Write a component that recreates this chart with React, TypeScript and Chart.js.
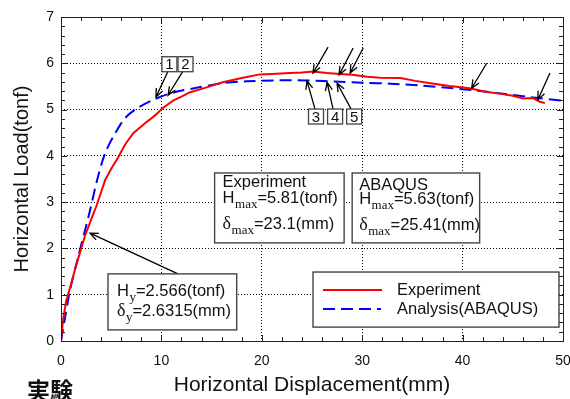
import React, { useEffect, useRef } from "react";
import { Chart, registerables } from "chart.js";

Chart.register(...registerables);

// ---------------- data ----------------
const seriesNames = ["Experiment", "Analysis(ABAQUS)"];

const expDisp = [0, 0.2, 0.5, 0.9, 1.4, 1.9, 2.4, 3.0, 3.5, 4.0, 4.4, 5.0, 5.7, 6.4, 7.2, 7.9, 8.4, 9.4, 10.1, 11.2, 12.0, 12.8, 14.5, 16.1, 18.0, 19.8, 21.0, 22.8, 24.0, 25.1, 26.5, 27.8, 29.0, 30.5, 31.8, 33.8, 35.3, 36.8, 38.7, 40.7, 42.4, 43.5, 45.0, 46.0, 47.0, 47.7, 48.2];
const expLoad = [0, 0.45, 0.85, 1.15, 1.55, 1.92, 2.28, 2.62, 2.9, 3.22, 3.48, 3.72, 3.97, 4.25, 4.49, 4.62, 4.71, 4.88, 5.03, 5.2, 5.28, 5.37, 5.48, 5.59, 5.68, 5.76, 5.77, 5.79, 5.8, 5.82, 5.79, 5.77, 5.75, 5.71, 5.69, 5.68, 5.62, 5.57, 5.51, 5.46, 5.38, 5.35, 5.3, 5.24, 5.25, 5.17, 5.14];

const anaDisp = [0, 0.4, 0.9, 1.7, 2.4, 2.9, 3.6, 4.4, 5.4, 6.4, 7.6, 9.4, 11.2, 13.5, 16.1, 18.5, 21.1, 24.5, 27.8, 30.0, 32.8, 35.8, 40.0, 43.4, 46.7, 50.0];
const anaLoad = [0, 0.5, 1.1, 1.81, 2.4, 2.83, 3.48, 4.06, 4.49, 4.82, 5.03, 5.23, 5.37, 5.47, 5.57, 5.61, 5.63, 5.63, 5.6, 5.58, 5.56, 5.52, 5.44, 5.36, 5.27, 5.19];

const xTickValues = [0, 10, 20, 30, 40, 50];
const yTickValues = [0, 1, 2, 3, 4, 5, 6, 7];
const xTitle = "Horizontal Displacement(mm)";
const yTitle = "Horizontal Load(tonf)";
const cornerNote = "実験";

// numbered tags (label, centre in data units)
const tagLabels = ["1", "2", "3", "4", "5"];
const tagX = [10.8, 12.4, 25.4, 27.3, 29.2];
const tagY = [5.98, 5.98, 4.85, 4.85, 4.85];

// arrows: tail (x,y) -> head (x,y) in data units
const arrowTailX = [10.66, 12.15, 25.3, 27.1, 28.9, 26.6, 29.1, 30.1, 42.4, 48.7, 11.65];
const arrowTailY = [5.83, 5.83, 5.01, 5.01, 5.01, 6.35, 6.33, 6.33, 6.0, 5.79, 1.45];
const arrowHeadX = [9.46, 10.66, 24.5, 26.5, 27.5, 25.1, 27.7, 28.8, 40.9, 47.5, 2.89];
const arrowHeadY = [5.27, 5.31, 5.62, 5.59, 5.57, 5.79, 5.75, 5.79, 5.46, 5.21, 2.33];

// info boxes text
type Run = { t: string; serif?: boolean; sub?: boolean };
const expBoxLines: Run[][] = [
  [{ t: "Experiment" }],
  [{ t: "H" }, { t: "max", sub: true }, { t: "=5.81(tonf)" }],
  [{ t: "δ", serif: true }, { t: "max", sub: true }, { t: "=23.1(mm)" }],
];
const abaBoxLines: Run[][] = [
  [{ t: "ABAQUS" }],
  [{ t: "H" }, { t: "max", sub: true }, { t: "=5.63(tonf)" }],
  [{ t: "δ", serif: true }, { t: "max", sub: true }, { t: "=25.41(mm)" }],
];
const yieldBoxLines: Run[][] = [
  [{ t: "H" }, { t: "y", sub: true }, { t: "=2.566(tonf)" }],
  [{ t: "δ", serif: true }, { t: "y", sub: true }, { t: "=2.6315(mm)" }],
];

// ---------------- layout / style ----------------
const SANS = "'Liberation Sans', Arial, sans-serif";
const SERIF = "'Liberation Serif', 'Times New Roman', serif";

const infoBoxes = [
  { lines: expBoxLines, x0: 15.3, y0: 3.63, x1: 28.2, y1: 2.12, textDx: 8, baselines: [14, 30, 56] },
  { lines: abaBoxLines, x0: 29.0, y0: 3.63, x1: 41.7, y1: 2.12, textDx: 7, baselines: [17, 31, 57] },
  { lines: yieldBoxLines, x0: 4.68, y0: 1.45, x1: 17.5, y1: 0.24, textDx: 9, baselines: [22, 42] },
];
const legendBox = { x0: 25.1, y0: 1.49, x1: 49.6, y1: 0.3 };

function drawRuns(ctx: CanvasRenderingContext2D, runs: Run[], x: number, y: number) {
  let cx = x;
  for (const r of runs) {
    if (r.sub) {
      ctx.font = `13px ${SERIF}`;
      ctx.fillText(r.t, cx, y + 5);
    } else if (r.serif) {
      ctx.font = `18px ${SERIF}`;
      ctx.fillText(r.t, cx, y);
    } else {
      ctx.font = `16.5px ${SANS}`;
      ctx.fillText(r.t, cx, y);
    }
    cx += ctx.measureText(r.t).width + (r.sub ? 0 : 0.5);
  }
}

function drawArrow(ctx: CanvasRenderingContext2D, x0: number, y0: number, x1: number, y1: number) {
  const a = Math.atan2(y1 - y0, x1 - x0);
  const L = 9;
  const s = 0.4;
  ctx.beginPath();
  ctx.moveTo(x0, y0);
  ctx.lineTo(x1, y1);
  ctx.moveTo(x1 - L * Math.cos(a - s), y1 - L * Math.sin(a - s));
  ctx.lineTo(x1, y1);
  ctx.lineTo(x1 - L * Math.cos(a + s), y1 - L * Math.sin(a + s));
  ctx.stroke();
}

const decorPlugin = {
  id: "decor",
  afterDatasetsDraw(chart: any) {
    const { ctx, chartArea, scales } = chart;
    const xs = scales.x;
    const ys = scales.y;
    const X = (v: number) => xs.getPixelForValue(v);
    const Y = (v: number) => ys.getPixelForValue(v);
    const { left, right, top, bottom } = chartArea;
    ctx.save();

    // frame
    ctx.strokeStyle = "#222";
    ctx.lineWidth = 1;
    ctx.strokeRect(Math.round(left) + 0.5, Math.round(top) + 0.5, Math.round(right - left), Math.round(bottom - top));

    // inward ticks, all four sides
    ctx.beginPath();
    for (let i = 0; i <= 25; i++) {
      const v = i * 2;
      const px = Math.round(X(v)) + 0.5;
      const len = v % 10 === 0 ? 6 : 4;
      ctx.moveTo(px, bottom);
      ctx.lineTo(px, bottom - len);
      ctx.moveTo(px, top);
      ctx.lineTo(px, top + len);
    }
    for (let i = 0; i <= 35; i++) {
      const v = i / 5;
      const py = Math.round(Y(v)) + 0.5;
      const len = i % 5 === 0 ? 6 : 4;
      ctx.moveTo(left, py);
      ctx.lineTo(left + len, py);
      ctx.moveTo(right, py);
      ctx.lineTo(right - len, py);
    }
    ctx.stroke();

    // arrows
    ctx.strokeStyle = "#000";
    ctx.lineWidth = 1.3;
    for (let i = 0; i < arrowTailX.length; i++) {
      drawArrow(ctx, X(arrowTailX[i]), Y(arrowTailY[i]), X(arrowHeadX[i]), Y(arrowHeadY[i]));
    }

    // numbered tags
    for (let i = 0; i < tagLabels.length; i++) {
      const cx = X(tagX[i]);
      const cy = Y(tagY[i]);
      const w = 15, h = 15;
      ctx.fillStyle = "#fff";
      ctx.fillRect(cx - w / 2, cy - h / 2, w, h);
      ctx.strokeStyle = "#444";
      ctx.lineWidth = 1.3;
      ctx.strokeRect(cx - w / 2, cy - h / 2, w, h);
      ctx.fillStyle = "#111";
      ctx.font = `15px ${SANS}`;
      ctx.textAlign = "center";
      ctx.textBaseline = "middle";
      ctx.fillText(tagLabels[i], cx, cy + 1);
    }

    // info boxes
    ctx.textAlign = "left";
    ctx.textBaseline = "alphabetic";
    for (const b of infoBoxes) {
      const bx = X(b.x0), by = Y(b.y0), bw = X(b.x1) - bx, bh = Y(b.y1) - by;
      ctx.fillStyle = "#fff";
      ctx.fillRect(bx, by, bw, bh);
      ctx.strokeStyle = "#444";
      ctx.lineWidth = 1.4;
      ctx.strokeRect(bx, by, bw, bh);
      ctx.fillStyle = "#111";
      b.lines.forEach((ln, k) => drawRuns(ctx, ln, bx + b.textDx, by + b.baselines[k]));
    }

    // legend
    {
      const bx = X(legendBox.x0), by = Y(legendBox.y0), bw = X(legendBox.x1) - bx, bh = Y(legendBox.y1) - by;
      ctx.fillStyle = "#fff";
      ctx.fillRect(bx, by, bw, bh);
      ctx.strokeStyle = "#444";
      ctx.lineWidth = 1.4;
      ctx.strokeRect(bx, by, bw, bh);
      chart.data.datasets.forEach((ds: any, k: number) => {
        const ly = by + 18 + k * 19;
        ctx.strokeStyle = ds.borderColor;
        ctx.lineWidth = ds.borderWidth;
        ctx.setLineDash(ds.borderDash || []);
        ctx.beginPath();
        ctx.moveTo(bx + 10, ly);
        ctx.lineTo(bx + (k === 0 ? 69 : 68), ly);
        ctx.stroke();
        ctx.setLineDash([]);
        ctx.fillStyle = "#111";
        ctx.font = `16.5px ${SANS}`;
        ctx.textBaseline = "middle";
        ctx.fillText(ds.label, bx + 84, ly);
      });
    }

    // corner note
    ctx.fillStyle = "#111";
    ctx.font = `bold 23px 'Noto Sans CJK JP', sans-serif`;
    ctx.textAlign = "left";
    ctx.textBaseline = "top";
    ctx.fillText(cornerNote, 27, 379);

    ctx.restore();
  },
};

export default function App() {
  const ref = useRef<HTMLCanvasElement | null>(null);
  useEffect(() => {
    if (!ref.current) return;
    const chart = new Chart(ref.current, {
      type: "line",
      data: {
        datasets: [
          {
            label: seriesNames[0],
            data: expDisp.map((d, i) => ({ x: d, y: expLoad[i] })),
            borderColor: "#ff0000",
            borderWidth: 2,
            pointRadius: 0,
            tension: 0,
            fill: false,
          },
          {
            label: seriesNames[1],
            data: anaDisp.map((d, i) => ({ x: d, y: anaLoad[i] })),
            borderColor: "#0000ff",
            borderWidth: 2,
            borderDash: [12, 6],
            pointRadius: 0,
            tension: 0.3,
            fill: false,
          },
        ],
      },
      options: {
        responsive: false,
        animation: false,
        devicePixelRatio: 1,
        layout: { padding: { top: 17, right: 7, left: 0, bottom: 0 } },
        plugins: { legend: { display: false }, tooltip: { enabled: false } },
        scales: {
          x: {
            type: "linear",
            min: 0,
            max: 50,
            afterBuildTicks: (s: any) => {
              s.ticks = xTickValues.map((v) => ({ value: v }));
            },
            afterFit: (s: any) => {
              s.height = 58;
              s.paddingLeft = 0;
              s.paddingRight = 0;
            },
            ticks: {
              padding: 12,
              color: "#111",
              font: { family: SANS, size: 14 },
              maxRotation: 0,
            },
            grid: { color: "#000", lineWidth: 1, drawTicks: false },
            border: { display: false, dash: [1, 2] },
            title: {
              display: true,
              text: xTitle,
              color: "#111",
              font: { family: SANS, size: 21 },
              padding: { top: 0, bottom: 1 },
            },
          },
          y: {
            type: "linear",
            min: 0,
            max: 7,
            afterBuildTicks: (s: any) => {
              s.ticks = yTickValues.map((v) => ({ value: v }));
            },
            afterFit: (s: any) => {
              s.width = 61;
              s.paddingTop = 0;
              s.paddingBottom = 0;
            },
            ticks: {
              padding: 7,
              color: "#111",
              font: { family: SANS, size: 14 },
            },
            grid: { color: "#000", lineWidth: 1, drawTicks: false },
            border: { display: false, dash: [1, 2] },
            title: {
              display: true,
              text: yTitle,
              color: "#111",
              font: { family: SANS, size: 20 },
              padding: { top: 10, bottom: 0 },
            },
          },
        },
      },
      plugins: [decorPlugin],
    } as any);
    return () => chart.destroy();
  }, []);

  return (
    <div style={{ position: "absolute", left: 0, top: 0, width: 570, height: 399, background: "#fff" }}>
      <canvas ref={ref} width={570} height={399} style={{ display: "block", width: 570, height: 399 }} />
    </div>
  );
}
